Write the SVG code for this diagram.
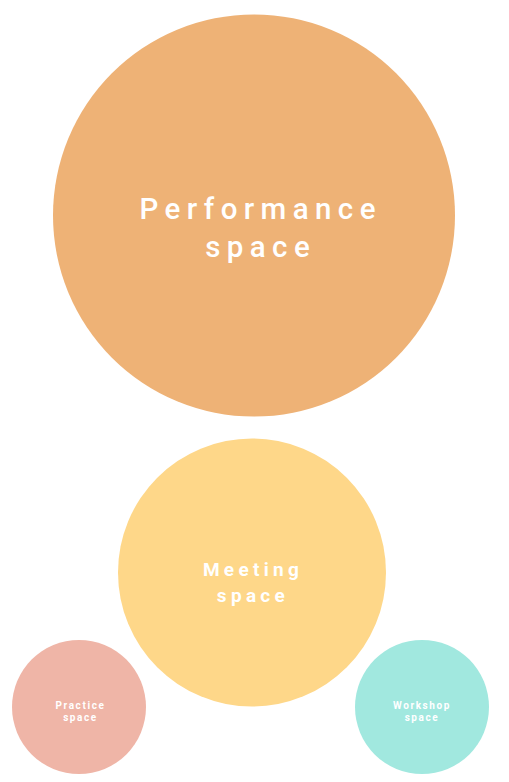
<svg xmlns="http://www.w3.org/2000/svg" width="509" height="782" viewBox="0 0 509 782">
<style>
text{font-family:Roboto,"Liberation Sans",sans-serif;fill:#fff;text-anchor:middle}
.big{font-size:29.5px;font-weight:500;letter-spacing:6.4px}
.mid{font-size:19px;font-weight:700;letter-spacing:4.3px}
.sm{font-size:10px;font-weight:700;letter-spacing:1.6px}
</style>
<rect width="509" height="782" fill="#fff"/>
<g id="performance">
<circle cx="254" cy="215.5" r="201" fill="#EEB276"/>
<text class="big" x="260.7" y="219">Performance</text>
<text class="big" x="260.7" y="257">space</text>
</g>
<g id="meeting">
<circle cx="252" cy="572.5" r="134" fill="#FED789"/>
<text class="mid" x="253" y="576">Meeting</text>
<text class="mid" x="253" y="601.5">space</text>
</g>
<g id="practice">
<circle cx="79" cy="707" r="67" fill="#EFB5A7"/>
<text class="sm" x="80.5" y="709">Practice</text>
<text class="sm" x="80.5" y="721">space</text>
</g>
<g id="workshop">
<circle cx="422" cy="707" r="67" fill="#A1E8DF"/>
<text class="sm" x="422" y="709">Workshop</text>
<text class="sm" x="422" y="721">space</text>
</g>
<g id="connectors"></g>
</svg>
